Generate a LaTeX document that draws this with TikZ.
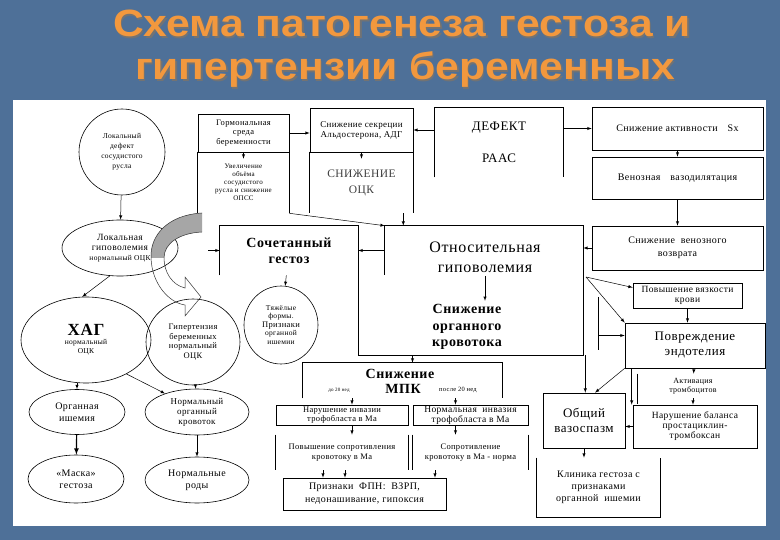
\documentclass[tikz,border=0pt]{standalone}
\usepackage{fontspec}
\setmainfont{Liberation Serif}[LetterSpace=4]
\newfontfamily\titlefont{Liberation Sans}
\usetikzlibrary{shapes.geometric}
\definecolor{slide}{RGB}{78,112,152}
\definecolor{titleor}{RGB}{242,152,62}
\newcommand{\fsz}[2]{\fontsize{#1}{#2}\selectfont}
\newcommand{\wide}[1]{\scalebox{1.12}[1]{#1}}

\begin{document}
\begin{tikzpicture}[x=1pt, y=-1pt,
	box/.style={draw, line width=0.6pt, align=center, inner sep=1pt},
	openbox/.style={box, draw=none},
	oval/.style={draw, ellipse, line width=0.6pt, align=center, inner sep=0pt},
	conn/.style={-latex, line width=0.5pt},
	ttl/.style={font=\titlefont\bfseries\fsz{38}{43}, anchor=base}]
	\fill[slide] (0,0) rectangle (780,540);
	\fill[white] (13,100) rectangle (766,526);
	\useasboundingbox (0,0) rectangle (780,540);

	\node[ttl, text=black!55] (t1s) at (403.5,38.5) {\wide{Схема патогенеза гестоза и}};
	\node[ttl, text=titleor] (t1) at (402,37) {\wide{Схема патогенеза гестоза и}};
	\node[ttl, text=black!55] (t2s) at (406.5,81.5) {\wide{гипертензии беременных}};
	\node[ttl, text=titleor] (t2) at (405,80) {\wide{гипертензии беременных}};

	\node[oval, minimum width=86, minimum height=86, font=\fsz{7.5}{10}] (lokdef) at (122,152) {Локальный\\дефект\\сосудистого\\русла};
	\node[oval, minimum width=116, minimum height=56, font=\fsz{9.5}{10}] (lokgip) at (120,248) {Локальная\\гиповолемия\\{\fsz{7.5}{9}нормальный ОЦК}};
	\node[oval, minimum width=130, minimum height=86, font=\fsz{7.5}{9}] (hag) at (86,340) {{\fsz{17}{18}\bfseries ХАГ}\\нормальный\\ОЦК};
	\node[oval, minimum width=94, minimum height=86, font=\fsz{8.5}{9.5}] (gipber) at (193,342) {Гипертензия\\беременных\\нормальный\\ОЦК};
	\node[oval, minimum width=96, minimum height=45, font=\fsz{10}{12}] (orgish) at (77,412) {Органная\\ишемия};
	\node[oval, minimum width=96, minimum height=48, font=\fsz{10}{12}] (maska) at (76,479) {«Маска»\\гестоза};
	\node[oval, minimum width=104, minimum height=46, font=\fsz{9}{10}] (normkr) at (197,412) {Нормальный\\органный\\кровоток};
	\node[oval, minimum width=104, minimum height=46, font=\fsz{10}{12}] (normrod) at (197,480) {Нормальные\\роды};

	\node[box, minimum width=91, minimum height=38, font=\fsz{8.5}{9.5}] (gorm) at (243.5,133) {Гормональная\\среда\\беременности};
	\node[openbox, minimum width=91, minimum height=61, font=\fsz{7}{8}] (uvel) at (243.5,182.5) {Увеличение\\объёма\\сосудистого\\русла и снижение\\ОПСС};
	\node[box, minimum width=103, minimum height=44, font=\fsz{9}{10}] (sekr) at (361.5,130) {Снижение секреции\\Альдостерона, АДГ};
	\node[openbox, minimum width=103, minimum height=61, font=\fsz{11.5}{16}, text=black!75] (ock) at (361.5,182.5) {СНИЖЕНИЕ\\ОЦК};
	\node[openbox, minimum width=128, minimum height=69, font=\fsz{13}{32}] (raas) at (499,142.5) {ДЕФЕКТ\\РААС};
	\node[box, minimum width=171, minimum height=43, font=\fsz{10}{12}] (aktiv) at (677.5,128.5) {Снижение активности\quad Sx};
	\node[box, minimum width=171, minimum height=42, font=\fsz{10}{12}] (venvaz) at (677.5,178) {Венозная\quad вазодилятация};
	\node[box, minimum width=171, minimum height=44, font=\fsz{10}{13}] (venvoz) at (677.5,248) {Снижение\ \ венозного\\возврата};

	\node[openbox, minimum width=138, minimum height=49, font=\bfseries\fsz{14}{16}] (soch) at (289,250.5) {Сочетанный\\гестоз};
	\node[oval, minimum width=74, minimum height=78, font=\fsz{7.5}{8.5}] (tyazh) at (281,325) {Тяжёлые\\формы.\\{\fsz{8.5}{9}Признаки}\\органной\\ишемии};
	\node[openbox, minimum width=198, minimum height=129] (otn) at (484,290.5) {};
	\node[font=\fsz{16}{20}, align=center] (otnt) at (485,257) {Относительная\\гиповолемия};
	\node[font=\bfseries\fsz{14}{16.5}, align=center] (otnb) at (467,327) {Снижение\\органного\\кровотока};

	\node[openbox, minimum width=199, minimum height=35] (mpk) at (402.5,380.5) {};
	\node[font=\bfseries\fsz{14}{16}] (mpkt) at (400,374) {Снижение};
	\node[font=\bfseries\fsz{14}{16}] (mpkm) at (403,389) {МПК};
	\node[font=\fsz{5}{6}] (do20) at (339,390) {до 20 нед};
	\node[font=\fsz{6.5}{7}] (po20) at (458,390) {после 20 нед};
	\node[box, minimum width=132, minimum height=20, font=\fsz{8.5}{9}] (narinv) at (342,415) {Нарушение инвазии\\трофобласта в Ма};
	\node[openbox, minimum width=132, minimum height=35, font=\fsz{8.5}{9.5}] (povsopr) at (342,452.5) {Повышение сопротивления\\кровотоку в Ма};
	\node[box, minimum width=115, minimum height=20, font=\fsz{9.5}{10}] (norminv) at (470.5,415) {Нормальная\ \ инвазия\\трофобласта в Ма};
	\node[openbox, minimum width=115, minimum height=35, font=\fsz{8.5}{10}] (sopr) at (470.5,452.5) {Сопротивление\\кровотоку в Ма - норма};
	\node[box, minimum width=163, minimum height=32, font=\fsz{10}{13}] (fpn) at (364.5,494) {Признаки\ \ ФПН:\ \ ВЗРП,\\недонашивание, гипоксия};

	\node[box, minimum width=109, minimum height=25, font=\fsz{9.5}{10}] (vyazk) at (687.5,295.5) {Повышение вязкости\\крови};
	\node[box, minimum width=140, minimum height=45, font=\fsz{13}{15}] (povr) at (695,345.5) {Повреждение\\эндотелия};
	\node[openbox, minimum width=110, minimum height=24, font=\fsz{8}{9}] (trom) at (693,386) {Активация\\тромбоцитов};
	\node[box, minimum width=124, minimum height=43, font=\fsz{9.5}{10}] (balans) at (695,426.5) {Нарушение баланса\\простациклин-\\тромбоксан};
	\node[box, minimum width=82, minimum height=55, font=\fsz{13}{15}] (vazo) at (584,420.5) {Общий\\вазоспазм};
	\node[openbox, minimum width=123, minimum height=59, font=\fsz{10}{12}] (klin) at (598.5,487.5) {Клиника гестоза с\\признаками\\органной\ \ ишемии};

	\foreach \n in {uvel,ock,povsopr,sopr}
		\draw[line width=0.6pt] (\n.north west) -- (\n.south west) (\n.north east) -- (\n.south east);
	\foreach \n in {raas,mpk}
		\draw[line width=0.6pt] (\n.south west) -- (\n.north west) -- (\n.north east) -- (\n.south east);
	\draw[line width=0.6pt] (soch.south west) -- (soch.north west) -- (soch.north east) -- (soch.north east |- otn.south) -- (otn.south east) -- (otn.north east) -- (otn.north west) -- (otn.west |- soch.south);
	\draw[line width=0.6pt] (klin.north west) -- (klin.south west) -- (klin.south east) -- (klin.north east);
	\draw[line width=0.6pt] (trom.north west) -- ([yshift=-6pt]trom.south west);

	\fill[black!35] (202,213) .. controls (168,215) and (150,235) .. (151,258) -- (164,258) .. controls (164,243) and (180,233) .. (202,232) -- cycle;
	\draw[line width=0.5pt, black!80] (202,213) .. controls (168,215) and (150,235) .. (151,258) .. controls (152,285) and (170,303) .. (185,305) -- (185,316) -- (201,297) -- (185,277) -- (185,288) .. controls (172,285) and (164,272) .. (164,258) .. controls (164,243) and (180,233) .. (202,232);

	\draw[conn] (lokdef) -- (lokgip);
	\draw[conn] (lokgip.250) -- (hag.95);
	\draw[conn] (orgish.north |- hag.south) -- (orgish.north);
	\draw[conn] (hag.-40) -- (normkr.150);
	\draw[conn] (gipber) -- (normkr);
	\draw[conn, line width=1.2pt] (orgish) -- (maska);
	\draw[conn] (normkr) -- (normrod);

	\draw[conn] (gorm.east) -- (gorm.east -| sekr.west);
	\draw[conn] (gorm.south) -- ([yshift=-7pt]uvel.north);
	\draw[conn] (raas.west |- sekr.east) -- (sekr.east);
	\draw[conn] (sekr.south) -- ([yshift=-7pt]ock.north);
	\draw[conn] (raas.east |- aktiv.west) -- (aktiv.west);
	\draw[conn] (aktiv) -- (venvaz);
	\draw[conn] (venvaz) -- (venvoz);
	\draw[conn] (venvoz.west) -- (venvoz.west -| otn.east);
	\draw[conn] (uvel.south east) -- (otn.north west);
	\draw[conn] ([xshift=-10pt]ock.south east) -- ([xshift=-10pt]ock.south east |- otn.north);

	\coordinate (sochin) at (208,250.5);
	\draw[conn] (sochin) -- (soch.west);
	\draw[conn] (soch.east -| otn.west) -- (soch.east);
	\draw[conn] (soch) -- (tyazh);
	\draw[conn] (otnt.south) -- (otnt.south |- otnb.north);
	\draw[conn] ([xshift=10pt]mpk.north |- otn.south) -- ([xshift=10pt]mpk.north);
	\draw[conn] ([xshift=10pt]narinv.north |- mpk.south) -- ([xshift=10pt]narinv.north);
	\draw[conn] ([xshift=-15pt]norminv.north |- mpk.south) -- ([xshift=-15pt]norminv.north);
	\draw[conn] ([xshift=10pt]narinv.south) -- ([xshift=10pt]povsopr.north);
	\draw[conn] ([xshift=-15pt]norminv.south) -- ([xshift=-15pt]sopr.north);
	\draw[conn] ([xshift=-19pt]povsopr.south) -- ([xshift=-19pt]povsopr.south |- fpn.north);
	\draw[conn] ([xshift=3pt]povsopr.south) -- ([xshift=3pt]povsopr.south |- fpn.north);
	\draw[conn] ([xshift=-35.5pt]sopr.south) -- ([xshift=-35.5pt]sopr.south |- fpn.north);

	\coordinate (otnc) at (586,277);
	\coordinate (vtop) at (598,297);
	\coordinate (vbot) at (598,350);
	\coordinate (povrin) at ([yshift=10pt]povr.west);
	\draw[conn] (otnc) -- ([yshift=8pt]vyazk.west);
	\draw[conn] (otnc) -- (povr.north west);
	\draw (vtop) -- (vbot);
	\draw[conn] (vtop |- povrin) -- (povrin);
	\draw[conn] (vyazk.south) -- (vyazk.south |- povr.north);
	\draw[conn] ([xshift=2pt]otn.south east) -- ([xshift=2pt]otn.south east |- vazo.north);
	\draw[conn] (povr.south west) -- ([xshift=11pt]vazo.north);
	\draw[conn] ([xshift=7pt]povr.south west) -- ([xshift=7pt]povr.south west |- balans.north);
	\draw[conn] (povr) -- (trom);
	\draw[conn] (trom.south) -- (trom.south |- balans.north);
	\draw[conn] (balans.west) -- (balans.west -| vazo.east);
	\draw[conn] (vazo.south) -- (vazo.south |- klin.north);
\end{tikzpicture}
\end{document}
